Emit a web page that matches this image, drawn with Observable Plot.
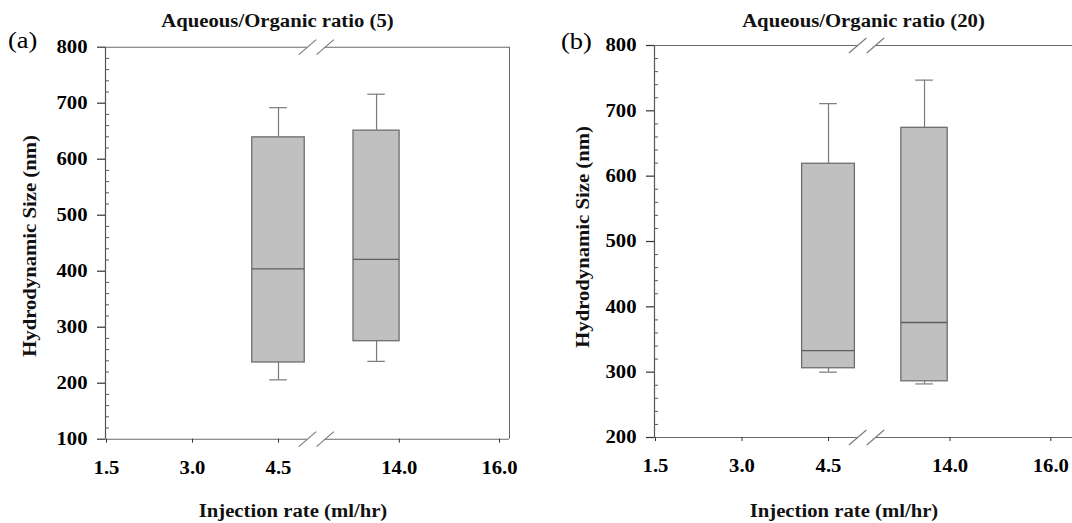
<!DOCTYPE html>
<html>
<head>
<meta charset="utf-8">
<script src="https://cdn.jsdelivr.net/npm/d3@7"></script>
<script src="https://cdn.jsdelivr.net/npm/@observablehq/plot@0.6"></script>
<style>
html, body { margin: 0; padding: 0; background: #fff; overflow: hidden; }
#wrap { position: relative; width: 1072px; height: 523px; overflow: hidden; }
.panel { position: absolute; top: 0; height: 523px; }
.panel svg { max-width: none !important; display: block; }
</style>
</head>
<body>
<div id="wrap"></div>
<script>
// ---------------- data ----------------
const xTickLabels = ["1.5", "3.0", "4.5", "14.0", "16.0"];
const xTickPos = [0, 1, 2, 3.405, 4.57];          // positions on the broken x axis
const breakPos = [2.337, 2.543];                  // the two "//" break marks
const panelTags = ["(a)", "(b)"];
const titles = ["Aqueous/Organic ratio (5)", "Aqueous/Organic ratio (20)"];
const yLabel = "Hydrodynamic Size (nm)";
const xLabel = "Injection rate (ml/hr)";

// panel (a): ratio 5
const boxPosA = [2, 3.14];
const minA = [206, 239];
const q1A = [237, 275];
const medA = [404, 421];
const q3A = [639, 651];
const maxA = [692, 716];
const yTicksA = [100, 200, 300, 400, 500, 600, 700, 800];

// panel (b): ratio 20
const boxPosB = [2, 3.11];
const minB = [300, 282];
const q1B = [306, 286];
const medB = [333, 376];
const q3B = [619, 674];
const maxB = [711, 747];
const yTicksB = [200, 300, 400, 500, 600, 700, 800];

// ---------------- layout / style ----------------
const FONT = "'Liberation Serif', 'Times New Roman', serif";
const STRETCH = 1.15;
const boxHalf = [0.305, 0.268];
const capHalf = 0.102;

const panels = [
  {
    left: 0, width: 536, marginLeft: 105, marginRight: 27, marginTop: 46.7, marginBottom: 84.3,
    xDomain: [-0.0116, 4.686], yDomain: [100, 800], yTicks: yTicksA,
    pos: boxPosA, mn: minA, q1: q1A, md: medA, q3: q3A, mx: maxA,
    tag: panelTags[0], tagX: 8, tagY: 48,
    title: titles[0], titleX: 277.5, titleY: 27,
    yLabX: 36, yLabY: 246, xLabX: 293, xLabY: 517
  },
  {
    left: 536, width: 560, marginLeft: 118, marginRight: 11, marginTop: 45, marginBottom: 86,
    xDomain: [-0.0116, 4.971], yDomain: [200, 800], yTicks: yTicksB,
    pos: boxPosB, mn: minB, q1: q1B, md: medB, q3: q3B, mx: maxB,
    tag: panelTags[1], tagX: 25, tagY: 49,
    title: titles[1], titleX: 327.5, titleY: 27,
    yLabX: 53, yLabY: 237, xLabX: 308, xLabY: 517
  }
];

const wrap = document.getElementById("wrap");

panels.forEach(p => {
  const height = 523;
  const plotH = height - p.marginTop - p.marginBottom;
  const plotW = p.width - p.marginLeft - p.marginRight;
  const [x0, x1] = p.xDomain;
  const [y0, y1] = p.yDomain;
  const idx = d3.range(p.pos.length);
  const minor = d3.range(y0, y1 + 1, 20).filter(v => v % 100 !== 0);
  const unitsPerPxY = (y1 - y0) / plotH;
  const unitsPerPxX = (x1 - x0) / plotW;
  const sx = 8.7 * unitsPerPxX, sy = 7.5 * unitsPerPxY;

  const frameSegs = [
    {y: y0, a: x0, b: breakPos[0]}, {y: y0, a: breakPos[1], b: x1},
    {y: y1, a: x0, b: breakPos[0]}, {y: y1, a: breakPos[1], b: x1}
  ];
  const slashes = [];
  [y0, y1].forEach(y => breakPos.forEach(x => slashes.push({x, y})));

  const lineColor = "#6a6a6a";

  const chart = Plot.plot({
    width: p.width,
    height,
    marginLeft: p.marginLeft,
    marginRight: p.marginRight,
    marginTop: p.marginTop,
    marginBottom: p.marginBottom,
    style: {fontFamily: FONT, fontSize: "18px", fontWeight: "bold", color: "#000", background: "transparent", overflow: "visible", maxWidth: "none"},
    x: {domain: p.xDomain},
    y: {domain: p.yDomain},
    marks: [
      // frame lines
      Plot.ruleX([x0], {stroke: "#555", strokeWidth: 1.2}),
      Plot.ruleX([x1], {stroke: lineColor, strokeWidth: 1}),
      Plot.ruleY(frameSegs, {y: "y", x1: "a", x2: "b", stroke: lineColor, strokeWidth: 1.1}),
      Plot.link(slashes, {
        x1: d => d.x - sx, y1: d => d.y - sy, x2: d => d.x + sx, y2: d => d.y + sy,
        stroke: "#777", strokeWidth: 1.1
      }),
      // minor ticks (inward)
      Plot.tickY(minor, {y: d => d, insetRight: plotW - 4, stroke: "#555", strokeWidth: 1}),
      // axes
      Plot.axisY({ticks: p.yTicks, tickSize: 8, tickPadding: 10, tickFormat: d => String(d), label: null, stroke: "#333", strokeWidth: 1.2}),
      Plot.axisX({ticks: xTickPos, tickSize: 4, tickPadding: 18, label: null, stroke: "#333",
        tickFormat: d => xTickLabels[xTickPos.indexOf(d)]}),
      // whiskers
      Plot.ruleX(idx, {x: i => p.pos[i], y1: i => p.q3[i], y2: i => p.mx[i], stroke: "#7a7a7a", strokeWidth: 1.2}),
      Plot.ruleX(idx, {x: i => p.pos[i], y1: i => p.q1[i], y2: i => p.mn[i], stroke: "#7a7a7a", strokeWidth: 1.2}),
      Plot.ruleY(idx, {y: i => p.mx[i], x1: i => p.pos[i] - capHalf, x2: i => p.pos[i] + capHalf, stroke: "#7a7a7a", strokeWidth: 1.2}),
      Plot.ruleY(idx, {y: i => p.mn[i], x1: i => p.pos[i] - capHalf, x2: i => p.pos[i] + capHalf, stroke: "#7a7a7a", strokeWidth: 1.2}),
      // boxes
      Plot.rect(idx, {
        x1: i => p.pos[i] - boxHalf[i], x2: i => p.pos[i] + boxHalf[i],
        y1: i => p.q1[i], y2: i => p.q3[i],
        fill: "#c0c0c0", stroke: "#6e6e6e", strokeWidth: 1.3
      }),
      Plot.ruleY(idx, {y: i => p.md[i], x1: i => p.pos[i] - boxHalf[i], x2: i => p.pos[i] + boxHalf[i], stroke: "#5e5e5e", strokeWidth: 1.3})
    ]
  });

  const holder = document.createElement("div");
  holder.className = "panel";
  holder.style.left = p.left + "px";
  holder.style.width = p.width + "px";
  holder.appendChild(chart);
  wrap.appendChild(holder);

  const svg = d3.select(chart);
  svg.append("text").text(p.tag)
    .attr("x", p.tagX).attr("y", p.tagY).attr("text-anchor", "start")
    .attr("font-size", 23).attr("font-weight", "normal").attr("fill", "#000");
  svg.append("text").text(p.title)
    .attr("x", p.titleX).attr("y", p.titleY).attr("text-anchor", "middle")
    .attr("font-size", 18).attr("font-weight", "bold").attr("fill", "#111");
  svg.append("text").text(yLabel)
    .attr("transform", `translate(${p.yLabX},${p.yLabY}) rotate(-90)`).attr("text-anchor", "middle")
    .attr("font-size", 18).attr("font-weight", "bold").attr("fill", "#111");
  svg.append("text").text(xLabel)
    .attr("x", p.xLabX).attr("y", p.xLabY).attr("text-anchor", "middle")
    .attr("font-size", 18).attr("font-weight", "bold").attr("fill", "#111");

  // widen glyphs slightly to match the reference's wide type
  svg.selectAll("text").each(function() {
    if (!this.textContent) return;
    const len = this.getComputedTextLength();
    if (len > 0) {
      this.setAttribute("textLength", (len * STRETCH).toFixed(2));
      this.setAttribute("lengthAdjust", "spacingAndGlyphs");
    }
  });
});
</script>
</body>
</html>
